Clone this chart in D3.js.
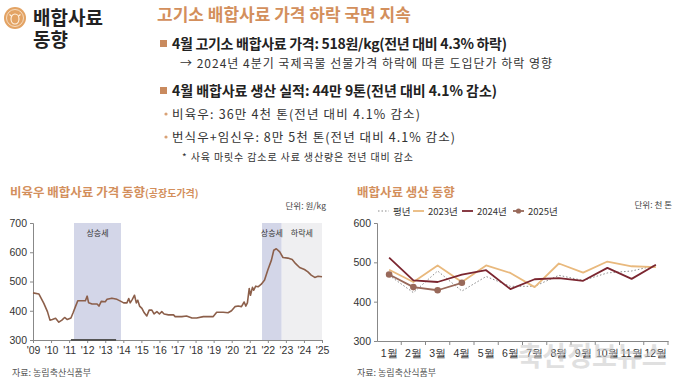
<!DOCTYPE html>
<html>
<head>
<meta charset="utf-8">
<script src="https://cdn.jsdelivr.net/npm/d3@7"></script>
<style>
  body { margin: 0; background: #fff; }
  svg { display: block; font-family: "Noto Sans CJK KR", "Noto Sans", sans-serif; }
</style>
</head>
<body>
<div id="root"></div>
<script>
// ---- data ----
const priceYears = [2009.0, 2009.33, 2009.6, 2009.8, 2009.94, 2010.07, 2010.25, 2010.43, 2010.6, 2010.75, 2010.9,
  2011.1, 2011.22, 2011.35, 2011.48, 2011.72, 2011.9, 2012.0, 2012.08, 2012.27, 2012.55, 2012.65, 2012.78,
  2013.0, 2013.1, 2013.37, 2013.65, 2013.87, 2014.02, 2014.2, 2014.3, 2014.38, 2014.5, 2014.62, 2014.72,
  2014.8, 2014.9, 2015.03, 2015.16, 2015.3, 2015.43, 2015.58, 2015.7, 2015.86, 2016.0, 2016.13, 2016.26,
  2016.5, 2016.78, 2016.87, 2017.24, 2017.5, 2017.8, 2018.06, 2018.43, 2018.8, 2018.98, 2019.17, 2019.53,
  2019.8, 2019.99, 2020.18, 2020.36, 2020.54, 2020.69, 2020.78, 2020.87, 2020.97, 2021.04, 2021.15, 2021.22,
  2021.33, 2021.46, 2021.64, 2021.82, 2022.0, 2022.2, 2022.33, 2022.47, 2022.66, 2022.84, 2023.11, 2023.35,
  2023.54, 2023.76, 2024.03, 2024.22, 2024.4, 2024.6, 2024.78, 2025.0];
const priceValues = [461, 457, 425, 397, 368, 370, 374, 361, 368, 377, 370,
  375, 393, 414, 434, 434, 434, 450, 427, 423, 423, 416, 432,
  431, 439, 443, 439, 432, 427, 427, 442, 427, 439, 453, 427,
  436, 416, 408, 393, 382, 402, 402, 389, 397, 389, 397, 389,
  386, 386, 380, 380, 382, 375, 375, 380, 380, 380, 395, 395,
  393, 400, 414, 416, 414, 430, 416, 427, 476, 453, 480, 470,
  484, 482, 491, 505, 539, 573, 607, 612, 601, 582, 580, 575,
  561, 548, 541, 533, 522, 514, 518, 516];
const yearLabels = ["'09","'10","'11","'12","'13","'14","'15","'16","'17","'18","'19","'20","'21","'22","'23","'24","'25"];
const priceTicks = [300, 400, 500, 600, 700];
const phases = [
  { from: 2011.27, to: 2013.87, label: "상승세", kind: "up" },
  { from: 2021.68, to: 2022.77, label: "상승세", kind: "up" },
  { from: 2022.77, to: 2025.0, label: "하락세", kind: "down" }
];
const baseMark = [2011.1, 2013.6];

const months = ["1월","2월","3월","4월","5월","6월","7월","8월","9월","10월","11월","12월"];
const avgYear = [467, 423, 478, 427, 464, 439, 439, 467, 454, 473, 478, 492];
const prod2023 = [481, 450, 492, 450, 492, 473, 437, 497, 474, 502, 490, 488];
const prod2024 = [512, 454, 450, 469, 480, 432, 457, 460, 453, 486, 458, 494];
const prod2025 = [469, 437, 429, 448];
const prodTicks = [300, 400, 500, 600];

const W = 680, H = 383;
const svg = d3.select("#root").append("svg").attr("width", W).attr("height", H);

// ---- top text block ----
const accent = "#d38f5c";
svg.append("circle").attr("cx", 15).attr("cy", 18).attr("r", 11).attr("fill", "#e3a364");
svg.append("circle").attr("cx", 15).attr("cy", 18).attr("r", 8.5).attr("fill", "none")
  .attr("stroke", "#f6dcc0").attr("stroke-width", 1);
// tiny cow face
svg.append("ellipse").attr("cx", 15).attr("cy", 19).attr("rx", 4).attr("ry", 5)
  .attr("fill", "none").attr("stroke", "#fff3e4").attr("stroke-width", 1.1);
svg.append("path").attr("d", "M9.5,14.5 L11.5,16 M20.5,14.5 L18.5,16")
  .attr("stroke", "#fff3e4").attr("stroke-width", 1.1);

svg.append("text").attr("x", 33).attr("y", 25).attr("font-size", 19).attr("font-weight", 700)
  .attr("fill", "#222").text("배합사료");
svg.append("text").attr("x", 33).attr("y", 47).attr("font-size", 19).attr("font-weight", 700)
  .attr("fill", "#222").text("동향");

svg.append("text").attr("x", 157).attr("y", 21).attr("font-size", 17).attr("font-weight", 700)
  .attr("fill", accent).text("고기소 배합사료 가격 하락 국면 지속");

svg.append("rect").attr("x", 160).attr("y", 40).attr("width", 7).attr("height", 7).attr("fill", "#c98a5e");
svg.append("text").attr("x", 172).attr("y", 49).attr("font-size", 14).attr("font-weight", 700)
  .attr("fill", "#222").attr("textLength", 335).text("4월 고기소 배합사료 가격: 518원/kg(전년 대비 4.3% 하락)");
svg.append("text").attr("x", 180).attr("y", 68).attr("font-size", 12)
  .attr("fill", "#333").attr("textLength", 372).text("→ 2024년 4분기 국제곡물 선물가격 하락에 따른 도입단가 하락 영향");

svg.append("rect").attr("x", 160).attr("y", 87).attr("width", 7).attr("height", 7).attr("fill", "#c98a5e");
svg.append("text").attr("x", 172).attr("y", 96).attr("font-size", 14).attr("font-weight", 700)
  .attr("fill", "#222").attr("textLength", 325).text("4월 배합사료 생산 실적: 44만 9톤(전년 대비 4.1% 감소)");

svg.append("circle").attr("cx", 166).attr("cy", 114).attr("r", 1.6).attr("fill", "#d9a276");
svg.append("text").attr("x", 172).attr("y", 118.5).attr("font-size", 12.5)
  .attr("fill", "#333").attr("textLength", 248).text("비육우: 36만 4천 톤(전년 대비 4.1% 감소)");
svg.append("circle").attr("cx", 166).attr("cy", 137).attr("r", 1.6).attr("fill", "#d9a276");
svg.append("text").attr("x", 172).attr("y", 141.5).attr("font-size", 12.5)
  .attr("fill", "#333").attr("textLength", 283).text("번식우+임신우: 8만 5천 톤(전년 대비 4.1% 감소)");
svg.append("text").attr("x", 182).attr("y", 161).attr("font-size", 10)
  .attr("fill", "#333").attr("textLength", 231).text("* 사육 마릿수 감소로 사료 생산량은 전년 대비 감소");

// ---- left chart: price ----
const L = { left: 33, right: 322, top: 223, bottom: 340 };
const x1 = d3.scaleLinear().domain([2009, 2025]).range([L.left, L.right]);
const y1 = d3.scaleLinear().domain([300, 700]).range([L.bottom, L.top]);

const t1 = svg.append("text").attr("x", 10).attr("y", 197).attr("font-weight", 700).attr("fill", accent);
t1.append("tspan").attr("font-size", 12.5).text("비육우 배합사료 가격 동향");
t1.append("tspan").attr("font-size", 10).text("(공장도가격)");
svg.append("text").attr("x", 326).attr("y", 209).attr("text-anchor", "end").attr("font-size", 8.5)
  .attr("fill", "#444").text("단위: 원/kg");

const gL = svg.append("g");
gL.selectAll("rect.phase").data(phases).enter().append("rect").attr("class", "phase")
  .attr("x", d => x1(d.from)).attr("width", d => x1(d.to) - x1(d.from))
  .attr("y", L.top).attr("height", L.bottom - L.top)
  .attr("fill", d => d.kind === "up" ? "#d3d6e8" : "#efeff1");
gL.selectAll("text.phase").data(phases).enter().append("text").attr("class", "phase")
  .attr("x", d => (x1(d.from) + x1(d.to)) / 2).attr("y", L.top + 13)
  .attr("text-anchor", "middle").attr("font-size", 8).attr("fill", "#333").text(d => d.label);

const yAxisL = gL.append("g").attr("transform", `translate(${L.left},0)`)
  .call(d3.axisLeft(y1).tickValues(priceTicks).tickSize(3).tickPadding(3));
const xAxisL = gL.append("g").attr("transform", `translate(0,${L.bottom})`)
  .call(d3.axisBottom(x1).tickValues(d3.range(2009, 2026)).tickSize(3).tickPadding(4)
    .tickFormat((d, i) => yearLabels[i]));
[yAxisL, xAxisL].forEach(a => {
  a.select(".domain").attr("stroke", "#888");
  a.selectAll(".tick line").attr("stroke", "#888");
  a.selectAll("text").attr("font-size", 10.5).attr("fill", "#333").attr("font-family", "Liberation Sans, Arial, sans-serif");
});
gL.append("line").attr("x1", x1(baseMark[0])).attr("x2", x1(baseMark[1]))
  .attr("y1", L.bottom).attr("y2", L.bottom).attr("stroke", "#555").attr("stroke-width", 2);

const priceData = priceYears.map((t, i) => ({ t, v: priceValues[i] }));
gL.append("path").datum(priceData)
  .attr("d", d3.line().x(d => x1(d.t)).y(d => y1(d.v)))
  .attr("fill", "none").attr("stroke", "#8c5f4a").attr("stroke-width", 1.6)
  .attr("stroke-linejoin", "round");

svg.append("text").attr("x", 12).attr("y", 376).attr("font-size", 9).attr("fill", "#555").text("자료: 농림축산식품부");

// ---- right chart: production ----
const R = { left: 377, right: 668, top: 223, bottom: 341 };
const x2 = d3.scaleBand().domain(months).range([R.left, R.right]);
const cx = m => x2(m) + x2.bandwidth() / 2;
const y2 = d3.scaleLinear().domain([300, 600]).range([R.bottom, R.top]);

svg.append("text").attr("x", 357).attr("y", 197).attr("font-size", 12.5).attr("font-weight", 700)
  .attr("fill", accent).text("배합사료 생산 동향");
svg.append("text").attr("x", 672).attr("y", 208).attr("text-anchor", "end").attr("font-size", 8.5)
  .attr("fill", "#444").text("단위: 천 톤");

const gR = svg.append("g");
const yAxisR = gR.append("g").attr("transform", `translate(${R.left},0)`)
  .call(d3.axisLeft(y2).tickValues(prodTicks).tickSize(3).tickPadding(3));
const xAxisR = gR.append("g").attr("transform", `translate(0,${R.bottom})`)
  .call(d3.axisBottom(x2).tickSize(0).tickPadding(9));
xAxisR.selectAll(".tick").append("line")
  .attr("x1", x2.bandwidth() / 2).attr("x2", x2.bandwidth() / 2).attr("y1", 0).attr("y2", 4)
  .attr("stroke", "#888");
[yAxisR, xAxisR].forEach(a => {
  a.select(".domain").attr("stroke", "#888");
  a.selectAll(".tick line").attr("stroke", "#888");
  a.selectAll("text").attr("font-size", 10.5).attr("fill", "#333");
});
yAxisR.selectAll("text").attr("font-family", "Liberation Sans, Arial, sans-serif");

const series = [
  { name: "평년", values: avgYear, color: "#8a8a8a", width: 1, dash: "1.5,2", dots: false },
  { name: "2023년", values: prod2023, color: "#e9b97d", width: 1.8, dash: null, dots: false },
  { name: "2024년", values: prod2024, color: "#7b2630", width: 1.8, dash: null, dots: false },
  { name: "2025년", values: prod2025, color: "#98695a", width: 1.8, dash: null, dots: true }
];
const lineR = d3.line().x((d, i) => cx(months[i])).y(d => y2(d));
series.forEach(s => {
  gR.append("path").datum(s.values).attr("d", lineR)
    .attr("fill", "none").attr("stroke", s.color).attr("stroke-width", s.width)
    .attr("stroke-dasharray", s.dash).attr("stroke-linejoin", "round");
  if (s.dots) {
    gR.selectAll(null).data(s.values).enter().append("circle")
      .attr("cx", (d, i) => cx(months[i])).attr("cy", d => y2(d)).attr("r", 3.3).attr("fill", s.color);
  }
});

// legend
const legendX = [378, 413, 462, 513];
const lg = svg.append("g").attr("transform", "translate(0,211)");
series.forEach((s, i) => {
  lg.append("line").attr("x1", legendX[i]).attr("x2", legendX[i] + 11).attr("y1", 0).attr("y2", 0)
    .attr("stroke", s.color).attr("stroke-width", s.width).attr("stroke-dasharray", s.dash);
  if (s.dots) lg.append("circle").attr("cx", legendX[i] + 5.5).attr("cy", 0).attr("r", 2.6).attr("fill", s.color);
  lg.append("text").attr("x", legendX[i] + 15).attr("y", 4).attr("font-size", 9.5).attr("fill", "#333").text(s.name);
});

svg.append("text").attr("x", 357).attr("y", 376).attr("font-size", 9).attr("fill", "#555").text("자료: 농림축산식품부");

// watermark
svg.append("text").attr("x", 592).attr("y", 366).attr("text-anchor", "middle").attr("font-size", 27)
  .attr("font-weight", 700).attr("fill", "#c8c8c8").attr("opacity", 0.55).text("축산정보뉴스");
</script>
</body>
</html>
